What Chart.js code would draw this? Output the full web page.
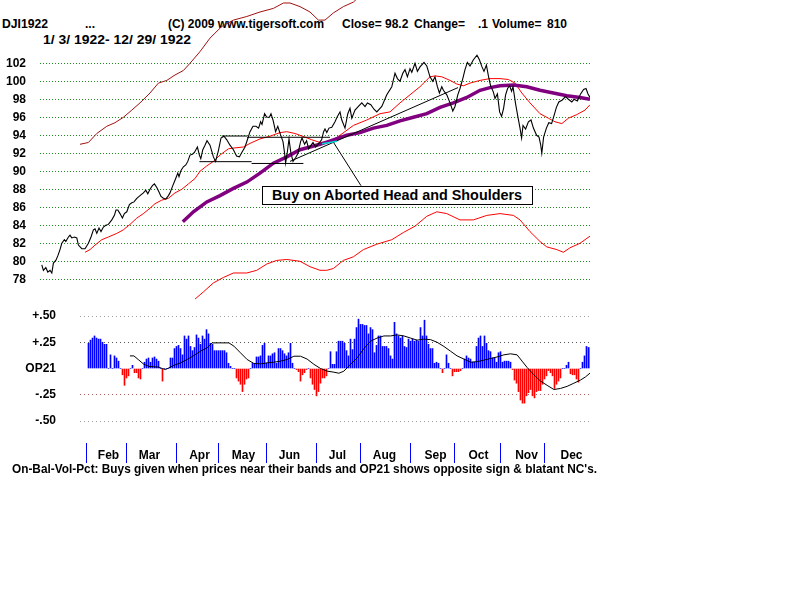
<!DOCTYPE html>
<html><head><meta charset="utf-8">
<script src="https://cdn.jsdelivr.net/npm/chart.js@4/dist/chart.umd.min.js"></script>
<style>
body{margin:0;background:#fff;width:800px;height:600px;position:relative;overflow:hidden;font-family:"Liberation Sans",Arial,sans-serif;font-weight:bold;color:#000;}
.t{position:absolute;font-size:12px;line-height:14px;white-space:pre;transform-origin:0 0;}
canvas{position:absolute;left:0;}
#cTop{top:0;}
#cBot{top:300px;}
#box{position:absolute;left:262px;top:186px;width:271px;height:19px;box-sizing:border-box;border:1px solid #000;background:#fff;}
#boxText{position:absolute;left:9px;top:0;font-size:14px;line-height:17px;white-space:pre;transform-origin:0 0;}
</style></head><body>
<div class="t" data-w="46" style="left:2px;top:16.5px">DJI1922</div>
<div class="t" style="left:85px;top:16.5px">...</div>
<div class="t" data-w="156" style="left:168px;top:16.5px">(C) 2009 www.tigersoft.com</div>
<div class="t" style="left:342px;top:16.5px">Close=</div>
<div class="t" style="left:385px;top:16.5px">98.2</div>
<div class="t" style="left:414px;top:16.5px">Change=</div>
<div class="t" style="left:478px;top:16.5px">.1</div>
<div class="t" style="left:492px;top:16.5px">Volume=</div>
<div class="t" style="left:547px;top:16.5px">810</div>
<div class="t" data-w="148" style="left:43px;top:32.5px">1/ 3/ 1922- 12/ 29/ 1922</div>
<canvas id="cTop" width="800" height="305"></canvas>
<canvas id="cBot" width="800" height="180"></canvas>
<div id="box"><span id="boxText" data-w="250">Buy on Aborted Head and Shoulders</span></div>
<div class="t" data-w="585" style="left:12px;top:460.8px;font-size:13px;line-height:15px">On-Bal-Vol-Pct: Buys given when prices near their bands and OP21 shows opposite sign &amp; blatant NC's.</div>
<script>
// ---------- DATA ----------
// x values are trading-session numbers through 1922 (0 = Jan 3)
const monthNames   = ['Feb','Mar','Apr','May','Jun','Jul','Aug','Sep','Oct','Nov','Dec'];
const monthStarts  = [23,43,68,89,113,138,160,185,207,230,252];
const monthLabelAt = [34,54.5,79.5,101.5,124.5,148.5,172,197.5,219,243,265.5];
const priceTicks   = [78,80,82,84,86,88,90,92,94,96,98,100,102];
const op21Ticks      = [-0.5,-0.25,0,0.25,0.5];
const op21TickLabels = ['-.50','-.25','OP21','+.25','+.50'];

const priceDays = [0.9,1.7,2.9,3.9,5,5.9,6.7,7.9,8.9,10,10.9,12.2,12.9,14.2,15,15.9,17.2,18.4,19.2,20.9,22.5,24.2,25.5,26.7,27.5,28.4,29.5,30.5,31.7,32.9,34.2,35.9,37.2,38,38.9,40,41.2,42.2,43.4,44.7,45.9,47,48.4,50,51.7,52.9,53.9,55,56.2,57.2,58.4,59.5,60.5,61.7,62.9,64.2,65,66.2,67.5,68.9,69.5,70.5,71.7,72.9,73.9,75,76.2,77.2,78.7,79.7,80.4,81.4,82.5,83.5,85,86.7,87.8,89.2,90.5,92,93.4,95,96.7,98.3,99.7,100.9,102.5,103.7,105,106.5,108,109.3,110.3,111,112.3,113.4,114.7,115.5,116.5,117.8,118.9,120.2,121.5,122.3,122.8,123.7,124.5,125.4,126.5,127.8,129,130.3,131,132.3,133.3,134.3,135.2,136.5,137.8,139,140.8,141.8,142.5,143.4,144.5,145.9,147.5,148.7,150,150.9,152.5,153.9,155,155.9,157.5,159.2,160.9,162.5,163.7,165.4,167,168.4,170.9,173.4,175.9,177.5,178.7,180,181.4,182.5,183.7,185,185.9,187.5,188.7,190,192,193.4,195,196.4,197.5,198.7,199.7,200.9,201.7,203.4,205,206.4,207.5,208.9,210,211.4,212.5,213.7,215,216.7,218.5,219.7,221,222,223.2,224.3,225.3,226.7,227.5,228.7,229.8,230.8,231.8,232.8,233.8,234.8,235.8,236.5,237.8,239,240,240.8,241.5,242.8,244.2,245.5,246.7,248.3,249.5,250.3,250.9,251.8,253.2,254.4,255.8,256.9,258.2,259.4,261,262.8,264.2,265.9,267,268.7,270.3,271.8,273,274,275];
const priceClose = [79.6,79.0,79.3,78.8,79.0,78.7,79.8,80.1,80.6,81.3,82.0,82.4,82.2,82.7,82.9,82.6,82.7,82.6,81.8,81.4,81.4,82.0,82.7,83.5,83.6,83.1,83.7,83.3,83.8,84.0,84.1,84.6,85.1,85.7,85.7,85.3,84.8,85.3,85.5,86.3,86.5,86.6,87.0,87.3,87.6,87.9,87.5,88.0,88.4,88.6,88.2,87.7,87.2,87.0,86.9,87.3,87.6,88.3,89.0,89.8,89.4,90.1,90.5,90.7,91.1,91.8,91.9,92.1,92.7,91.8,91.4,92.4,92.9,93.4,92.9,91.6,91.1,92.3,93.7,93.9,93.5,92.9,92.4,91.7,91.6,92.1,92.7,93.5,94.4,95.0,95.0,94.8,95.5,95.2,96.4,96.0,96.0,96.4,95.7,94.4,95.0,94.1,93.3,92.0,90.9,92.2,93.6,92.1,91.1,91.5,92.0,93.3,93.7,93.0,93.4,92.5,92.8,93.2,92.7,93.0,93.5,94.4,94.7,94.3,94.8,94.9,95.5,96.1,96.6,95.7,94.8,96.4,97.0,95.9,96.8,97.2,97.6,97.2,97.6,97.4,96.9,96.6,97.2,98.5,99.4,100.9,100.3,100.0,100.9,101.3,100.5,101.4,101.0,102.0,101.1,101.6,102.1,101.7,100.5,100.0,100.5,99.4,98.7,99.4,99.0,98.5,97.6,96.7,97.2,98.5,99.2,100.3,101.3,102.1,101.7,102.4,102.9,102.4,101.6,101.1,101.8,100.5,99.5,98.8,98.1,98.6,96.6,96.1,97.0,98.5,99.2,99.5,98.9,99.4,97.5,96.0,94.8,93.7,95.1,94.7,95.5,95.7,94.8,94.0,93.8,93.0,92.0,93.8,94.8,95.4,95.3,96.1,97.1,97.7,97.9,98.3,98.0,97.7,98.0,97.8,98.6,99.1,99.2,98.6,98.2];

const maDays = [22.5,25,27.5,30.9,34.2,38.4,41.7,45,48.4,51.7,55,57.5,60.9,64.2,67.5,70.9,74.2,77.5,80,83.4,86.7,90,94.2,97.5,101.7,105,110,115,120,123.4,127.5,132.5,135.9,140,145,150,156.7,163.4,170,175,180,185,190,195,197.5,200.9,205,208.4,211.7,215,220,225,230,234.2,237.5,240.9,245,250,254.2,257.5,260.9,264.2,268.4,272.5,275];
const maValues = [81.0,81.3,81.8,82.4,82.7,83.1,83.5,84.1,84.8,85.3,85.9,86.4,86.8,87.0,87.6,88.0,88.6,89.2,90.0,90.6,91.1,91.8,92.5,92.6,92.7,93.1,93.6,93.9,94.3,94.4,94.2,93.8,93.5,93.2,93.3,94.0,95.1,95.7,96.4,96.6,97.6,98.5,99.4,100.5,100.6,100.5,100.1,99.7,99.5,99.8,100.1,100.3,100.3,100.2,99.8,98.7,97.6,96.4,95.9,95.5,95.3,95.9,96.3,96.8,97.4];

const longMaDays = [71.4,76.7,83.4,90,96.7,103.4,110,116.7,123.4,130,140,146.7,153.4,160,166.7,173.4,180,186.7,193.4,200,206.7,213.4,220,225,230,236.7,243.4,250,256.7,263.4,270,275];
const longMaValues = [84.4,85.5,86.6,87.3,88.1,88.8,89.8,90.9,91.6,92.4,93.0,93.5,94.0,94.3,94.8,95.1,95.6,96.0,96.4,97.1,97.6,98.2,99.0,99.3,99.5,99.6,99.4,99.0,98.7,98.4,98.2,98.0];

const upperBandDays = [20,24.2,28.4,33.4,37.5,41.7,45.9,50,55,59.2,63.4,67.5,71.7,75,80,85,90.9,96.7,103.4,110,116.7,121.7,125,130,135,139.2,142.5,146.7,151.7,156.7,160];
const upperBand = [93.0,93.2,94.2,95.0,95.4,96.0,96.8,97.6,98.7,99.8,100.1,100.7,101.2,102.0,103.3,104.8,106.1,106.8,107.2,107.7,108.1,108.7,108.7,108.3,107.7,106.8,106.8,107.6,108.3,108.8,109.5];

const lowerBandDays = [77.5,81.7,86.7,91.7,96.7,103.4,108.4,113.4,118.4,123.4,130,135,140,143.4,146.7,151.7,156.7,161.7,168.4,175.9,181.7,187.5,193.4,198.4,203.4,210,216.7,223.4,230,236.7,240,245,250,253.4,258.4,261.7,265,270,275];
const lowerBand = [75.8,76.6,77.6,78.2,78.7,78.7,79.0,79.7,80.1,80.2,80.0,79.4,79.0,79.0,79.2,80.1,80.5,81.3,81.9,82.4,83.2,83.9,85.0,85.5,85.3,84.6,84.6,85.1,85.3,85.1,84.6,83.3,82.2,81.6,81.3,81.0,81.5,82.0,82.8];

// head-and-shoulders annotation lines
const neckTop1X = [90.8,103.5],  neckTop1Y = [93.92,93.92];
const neckTop2X = [103.5,145],   neckTop2Y = [93.78,93.78];
const neckBot1X = [79.7,105.8],  neckBot1Y = [91.07,91.07];
const neckBot2X = [105.8,131.7], neckBot2Y = [90.87,90.87];
const trendX = [125,209],        trendY = [91.1,99.3];
const pointerX = [146.5,160.5],  pointerY = [93.3,88.4];
const crossX = [141,148.5],      crossY = [93.05,93.35];

// OP21 histogram, one value per session starting at session 24
const op21Start = 24;
const op21Values = [.24,.27,.29,.31,.29,.28,.28,.25,.23,.23,
0,.13,0,.12,.10,.07,0,-.06,-.16,-.09,
-.07,0,.03,-.04,-.04,-.09,-.10,0,.06,.09,
.10,.06,.10,.11,.09,.07,0,-.12,0,0,
0,.10,.10,.19,.21,.22,.19,.13,.31,.28,
.31,.21,.17,.20,.32,.29,.23,.31,.28,.37,
.33,.24,.23,.17,.17,.17,.17,.17,.17,.15,
.05,.02,0,0,-.09,-.12,-.15,-.22,-.15,-.10,
-.09,0,.05,.05,.11,.11,.12,.22,.24,.05,
.12,.12,.14,.15,.05,.19,.19,.17,.14,.12,
.15,.24,.05,0,-.01,-.03,-.12,-.06,-.04,-.01,
0,-.09,-.15,-.20,-.26,-.22,-.14,-.09,-.09,-.07,
0,.16,.04,.04,.16,.26,.26,.26,.24,.17,
.12,.28,.18,.28,.39,.47,.42,.42,.41,.41,
.33,.39,.37,.15,.22,.31,.31,.21,.21,.21,
.19,.12,.09,.44,.33,.31,.29,.31,.21,.20,
.28,.26,.28,.26,.27,.26,.39,.31,.46,.31,
.23,.19,.19,.05,.06,.05,0,-.04,0,.13,
.05,0,-.07,-.03,-.03,-.03,-.02,0,.09,.12,
.10,.09,.06,.06,.21,.29,.31,.21,.31,.24,
.17,.16,.10,.10,.06,.15,.16,.06,.07,.07,
.07,.06,-.01,-.11,-.14,-.22,-.30,-.33,-.33,-.26,
-.23,-.20,-.26,-.28,-.22,-.21,-.21,-.15,-.10,-.07,
-.02,-.04,-.07,-.19,-.15,-.12,-.09,0,0,.03,
.06,-.05,-.06,-.06,-.10,-.13,0,.06,.12,.21,
.20,.20];

const op21MaDays = [44.7,46.7,49.2,51.7,54.2,56.7,59.2,60.8,62.5,64.2,66.7,70,73.3,76.7,80,83.3,85.8,90,94.2,96.7,100,103.3,106.7,110,113.3,116.7,120,123.3,126.7,130,133.3,136.7,140,143.3,146.7,149.2,151.7,155,158.3,161.7,165,168.3,171.7,175,178.3,181.7,185,188.3,191.7,195,198.3,201.7,205,208.3,211.7,215,218.3,221.7,225,228.3,231.7,235,238.3,240.8,243.3,246.7,250,253.3,256.7,260,263.3,266.7,270,272.5,275];
const op21Ma = [.12,.12,.08,.04,.02,.016,.013,0,-.01,.006,.03,.054,.086,.124,.165,.197,.244,.244,.244,.213,.149,.086,.048,.044,.054,.06,.07,.086,.117,.117,.09,.04,0,-.025,-.035,-.045,-.025,.04,.10,.19,.26,.29,.31,.31,.32,.31,.29,.27,.28,.275,.25,.21,.165,.12,.09,.06,.065,.08,.095,.11,.13,.14,.13,.07,.01,-.06,-.12,-.16,-.2,-.19,-.17,-.14,-.11,-.08,-.04];

// ---------- CHARTS ----------
const FONT = 'Liberation Sans, Arial, sans-serif';
const pts = (xs, ys) => xs.map((x, i) => ({x, y: ys[i]}));
const line = (xs, ys, color, width, order) => ({
  type: 'line', data: pts(xs, ys), borderColor: color, borderWidth: width,
  pointRadius: 0, tension: 0, fill: false, order
});

new Chart(document.getElementById('cTop'), {
  type: 'line',
  data: { datasets: [
    line(crossX, crossY, '#00d8d8', 1.5, 0),
    line(pointerX, pointerY, '#000', 1, 1),
    line(trendX, trendY, '#000', 1, 1),
    line(neckTop1X, neckTop1Y, '#000', 1, 1),
    line(neckTop2X, neckTop2Y, '#000', 1, 1),
    line(neckBot1X, neckBot1Y, '#000', 1, 1),
    line(neckBot2X, neckBot2Y, '#000', 1, 1),
    line(priceDays, priceClose, '#000', 1.1, 2),
    line(longMaDays, longMaValues, '#800080', 3.5, 3),
    line(maDays, maValues, '#ff0000', 1, 4),
    line(upperBandDays, upperBand, '#a01010', 1, 5),
    line(lowerBandDays, lowerBand, '#ff0000', 1, 5)
  ]},
  options: {
    responsive: false, animation: false, events: [],
    layout: { autoPadding: false, padding: { left: 0, right: 210, top: 0, bottom: 0 } },
    plugins: { legend: { display: false }, tooltip: { enabled: false } },
    scales: {
      x: { type: 'linear', min: 0, max: 275, display: false },
      y: {
        min: 75.144, max: 109.033,
        afterBuildTicks: s => { s.ticks = priceTicks.map(v => ({ value: v })); },
        afterFit: s => { s.width = 40; s.paddingTop = 0; s.paddingBottom = 0; },
        border: { display: false, dash: [1, 2] },
        grid: { color: '#1f8a1f', drawTicks: false, lineWidth: 1 },
        ticks: { padding: 14, color: '#000', font: { family: FONT, size: 12, weight: 'bold' },
                 callback: v => String(v) }
      }
    }
  }
});

const xTickList = monthStarts.concat(monthLabelAt).sort((a, b) => a - b);
const yGridColor = { '0.5': '#a0a0a0', '0.25': '#555', '0': 'rgba(0,0,0,0)', '-0.25': '#b06060', '-0.5': '#a0a0a0' };
const isMonthStart = v => monthStarts.some(m => Math.abs(m - v) < 1e-6);

new Chart(document.getElementById('cBot'), {
  type: 'bar',
  data: { datasets: [
    { type: 'line', data: pts(op21MaDays, op21Ma), borderColor: '#000', borderWidth: 1,
      pointRadius: 0, tension: 0, fill: false, order: 0 },
    { type: 'bar', data: op21Values.map((v, i) => ({ x: op21Start + i, y: v })),
      backgroundColor: c => (c.parsed && c.parsed.y < 0) ? '#ff0000' : '#0000ff',
      borderWidth: 0, barThickness: 1, order: 1 }
  ]},
  options: {
    responsive: false, animation: false, events: [],
    layout: { autoPadding: false, padding: { left: 0, right: 210, top: 0, bottom: 0 } },
    plugins: { legend: { display: false }, tooltip: { enabled: false } },
    scales: {
      x: {
        type: 'linear', min: 19.75, max: 274.75, offset: false,
        afterBuildTicks: s => { s.ticks = xTickList.map(v => ({ value: v })); },
        afterFit: s => { s.height = 37; s.paddingLeft = 0; s.paddingRight = 0; },
        border: { display: false },
        grid: { offset: false, drawOnChartArea: false, drawTicks: true, tickLength: 20, tickWidth: 1,
                color: 'rgba(0,0,0,0)',
                tickColor: c => (c.tick && isMonthStart(c.tick.value)) ? '#0000ff' : 'rgba(0,0,0,0)' },
        ticks: { autoSkip: false, maxRotation: 0, minRotation: 0, padding: -15, color: '#000',
                 font: { family: FONT, size: 12, weight: 'bold' },
                 callback: v => { const i = monthLabelAt.indexOf(v); return i >= 0 ? monthNames[i] : ''; } }
      },
      y: {
        min: -0.7095, max: 0.6524,
        afterBuildTicks: s => { s.ticks = op21Ticks.map(v => ({ value: v })); },
        afterFit: s => { s.width = 80; s.paddingTop = 0; s.paddingBottom = 0; },
        border: { display: false, dash: [1, 3] },
        grid: { drawTicks: false, color: c => (c.tick ? (yGridColor[String(c.tick.value)] || '#999') : '#999') },
        ticks: { padding: 24, color: '#000', font: { family: FONT, size: 12, weight: 'bold' },
                 callback: v => { const i = op21Ticks.indexOf(v); return i >= 0 ? op21TickLabels[i] : ''; } }
      }
    }
  }
});

function fitTexts() {
  document.querySelectorAll('[data-w]').forEach(el => {
    el.style.transform = 'none';
    const w = el.getBoundingClientRect().width;
    if (w > 0) el.style.transform = 'scaleX(' + (+el.dataset.w / w) + ')';
  });
}
fitTexts();
if (document.fonts && document.fonts.ready) document.fonts.ready.then(fitTexts);
</script>
</body></html>
